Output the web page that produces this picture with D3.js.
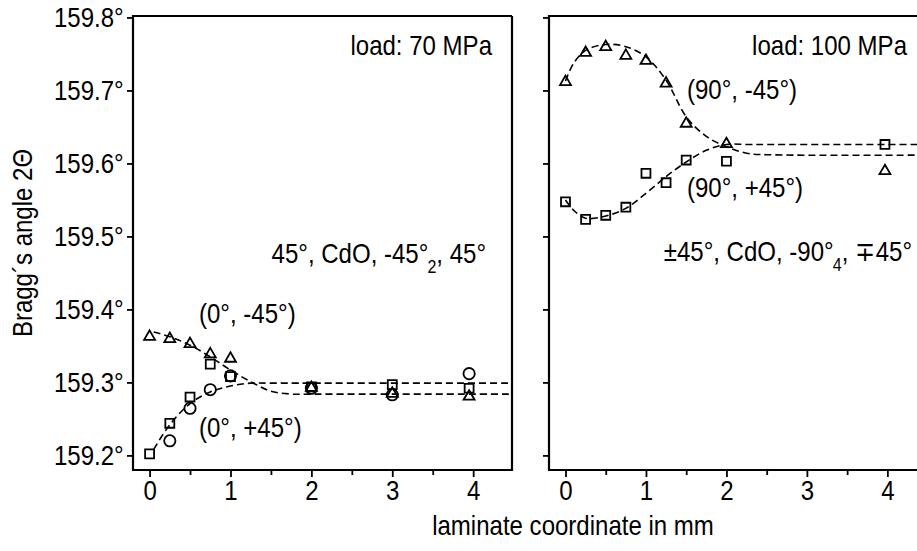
<!DOCTYPE html>
<html><head><meta charset="utf-8">
<script src="https://cdn.jsdelivr.net/npm/d3@7"></script>
<style>body{margin:0;background:#fff}</style>
</head><body><svg id="c" width="917" height="551"></svg>
<script>
// ---------- data ----------
const xTicks = [0, 1, 2, 3, 4];
const xMinorTicks = [0.5, 1.5, 2.5, 3.5];
const yTicks = [159.2, 159.3, 159.4, 159.5, 159.6, 159.7, 159.8];
const yTickLabels = ["159.2°", "159.3°", "159.4°", "159.5°", "159.6°", "159.7°", "159.8°"];

// load 70 MPa
const x70 = [0, 0.25, 0.5, 0.75, 1, 2, 3, 3.95];
const tri70 = [159.364, 159.361, 159.354, 159.340, 159.334, 159.294, 159.286, 159.282];
const sq70 = [159.202, 159.244, 159.280, 159.325, 159.308, 159.294, 159.297, 159.292];
const x70c = [0.25, 0.5, 0.75, 1, 2, 3, 3.95];
const circ70 = [159.220, 159.2645, 159.290, 159.309, 159.292, 159.283, 159.312];
const fitUp70x = [0.05, 0.25, 0.5, 0.75, 1.0, 1.25, 1.5, 1.75, 2.0, 4.6];
const fitUp70 = [159.369, 159.3626, 159.351, 159.335, 159.317, 159.301, 159.288, 159.284, 159.284, 159.284];
const fitLo70x = [0.05, 0.25, 0.5, 0.75, 1.0, 1.25, 1.5, 2.0, 4.6];
const fitLo70 = [159.208, 159.242, 159.271, 159.287, 159.295, 159.299, 159.299, 159.299, 159.299];

// load 100 MPa
const x100 = [0, 0.25, 0.5, 0.75, 1, 1.25, 1.5, 2, 3.97];
const tri100 = [159.713, 159.753, 159.761, 159.749, 159.742, 159.711, 159.656, 159.628, 159.591];
const sq100 = [159.5475, 159.5234, 159.529, 159.540, 159.5865, 159.5736, 159.6047, 159.603, 159.626];
const fit100x = [0, 0.1, 0.25, 0.5, 0.75, 1, 1.25, 1.5, 1.75, 2, 2.25, 2.5, 4.6];
const fitUp100 = [159.713, 159.737, 159.755, 159.763, 159.760, 159.746, 159.714, 159.664, 159.637, 159.623, 159.614, 159.612, 159.6115];
const fitLo100 = [159.550, 159.536, 159.525, 159.528, 159.5385, 159.559, 159.582, 159.602, 159.618, 159.626, 159.626, 159.626, 159.626];

// ---------- layout ----------
const FONT = "'Liberation Sans',Arial,sans-serif";
const FS = 27, SX = 0.89;   // condensed look: taller glyphs, narrowed horizontally
const svg = d3.select("#c");
const yTop = 16, yBot = 470;
const y = d3.scaleLinear().domain([159.18, 159.802]).range([yBot, yTop]);
const xDom = [-0.205, 4.48];
const panels = [
  {x0: 133, x1: 512, closed: true},
  {x0: 549, x1: 926, closed: false}
];
panels.forEach(p => { p.x = d3.scaleLinear().domain(xDom).range([p.x0, p.x1]); });

const tri = d3.symbol().type(d3.symbolTriangle).size(52);
const sqr = d3.symbol().type(d3.symbolSquare).size(80);
const cir = d3.symbol().type(d3.symbolCircle).size(100);

function frame(p, i) {
  const g = svg.append("g");
  const ax = g.append("g").attr("transform", `translate(0,${yBot})`)
    .call(d3.axisBottom(p.x).tickValues(xTicks).tickSize(7).tickFormat(d3.format("d")));
  ax.select(".domain").remove();
  const axm = g.append("g").attr("transform", `translate(0,${yBot})`)
    .call(d3.axisBottom(p.x).tickValues(xMinorTicks).tickSize(5).tickFormat(""));
  axm.select(".domain").remove();
  const ay = g.append("g").attr("transform", `translate(${p.x0},0)`)
    .call(d3.axisLeft(y).tickValues(yTicks).tickSize(6)
      .tickFormat((d, k) => i === 0 ? yTickLabels[k] : ""));
  ay.select(".domain").remove();
  g.selectAll(".tick line").attr("stroke", "#000").attr("stroke-width", 1.8);
  g.selectAll(".tick text").attr("font-family", FONT).attr("font-size", FS).attr("fill", "#000")
    .attr("transform", `scale(${SX},1)`);
  ax.selectAll(".tick text").attr("y", 8).attr("dy", "0.8em");
  ay.selectAll(".tick text").attr("x", -10.5).attr("dy", "0.35em");
  let d = `M${p.x1},${yTop}H${p.x0}V${yBot}H${p.x1}`;
  if (p.closed) d += `V${yTop}`;
  g.append("path").attr("d", d).attr("fill", "none").attr("stroke", "#000").attr("stroke-width", 2.2);
  return g;
}
panels.forEach(frame);

svg.append("defs").selectAll("clipPath").data(panels).join("clipPath")
  .attr("id", (d, i) => "clip" + i)
  .append("rect").attr("x", d => d.x0).attr("y", yTop).attr("width", d => d.x1 - d.x0).attr("height", yBot - yTop);

function curve(p, i, xs, ys) {
  const line = d3.line().x((d, k) => p.x(xs[k])).y(d => y(d)).curve(d3.curveCatmullRom.alpha(0.5));
  svg.append("path").attr("d", line(ys)).attr("clip-path", `url(#clip${i})`)
    .attr("fill", "none").attr("stroke", "#000").attr("stroke-width", 1.6)
    .attr("stroke-dasharray", "7,4");
}
function marks(p, xs, ys, sym, dy) {
  svg.append("g").selectAll("path").data(ys).join("path")
    .attr("d", sym)
    .attr("transform", (d, k) => `translate(${p.x(xs[k])},${y(d) + (dy || 0)})`)
    .attr("fill", "none").attr("stroke", "#000").attr("stroke-width", 1.8);
}

const L = panels[0], R = panels[1];
curve(L, 0, fitUp70x, fitUp70);
curve(L, 0, fitLo70x, fitLo70);
marks(L, x70, tri70, tri, 1);
marks(L, x70, sq70, sqr);
marks(L, x70c, circ70, cir);

curve(R, 1, fit100x, fitUp100);
curve(R, 1, fit100x, fitLo100);
marks(R, x100, tri100, tri, 1);
marks(R, x100, sq100, sqr);

// ---------- text ----------
function txt(x, yy, s, anchor, rot) {
  return svg.append("text")
    .attr("transform", `translate(${x},${yy})${rot ? " rotate(" + rot + ")" : ""} scale(${SX},1)`)
    .attr("font-family", FONT)
    .attr("font-size", FS).attr("text-anchor", anchor || "start").attr("fill", "#000").text(s);
}
txt(492, 55, "load: 70 MPa", "end");
txt(907, 55, "load: 100 MPa", "end");
txt(199, 323, "(0°, -45°)");
txt(199, 437, "(0°, +45°)");
txt(687, 99, "(90°, -45°)");
txt(687, 197, "(90°, +45°)");

const t1 = txt(486, 263, "", "end");
t1.append("tspan").text("45°, CdO, -45°");
t1.append("tspan").attr("font-size", 18).attr("dy", 10).attr("dx", -1).text("2");
t1.append("tspan").attr("dy", -10).text(", 45°");

const t2 = txt(912, 261, "", "end");
t2.append("tspan").text("±45°, CdO, -90°");
t2.append("tspan").attr("font-size", 18).attr("dy", 10).attr("dx", -1).text("4");
t2.append("tspan").attr("dy", -10).text(", ∓45°");

txt(573, 535, "laminate coordinate in mm", "middle");
txt(32, 243, "Bragg´s angle 2Θ", "middle", -90);
</script></body></html>
